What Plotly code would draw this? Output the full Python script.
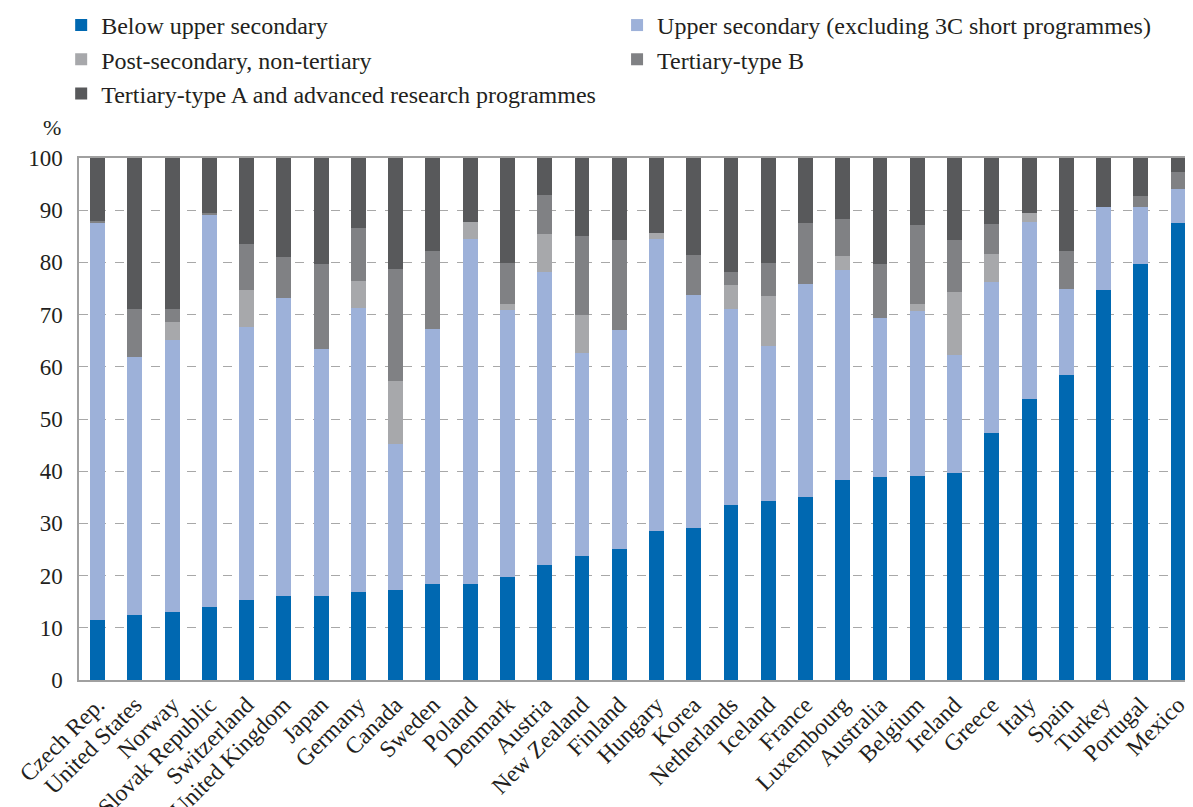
import plotly.graph_objects as go

countries = ["Czech Rep.", "United States", "Norway", "Slovak Republic", "Switzerland",
             "United Kingdom", "Japan", "Germany", "Canada", "Sweden", "Poland", "Denmark",
             "Austria", "New Zealand", "Finland", "Hungary", "Korea", "Netherlands", "Iceland",
             "France", "Luxembourg", "Australia", "Belgium", "Ireland", "Greece", "Italy",
             "Spain", "Turkey", "Portugal", "Mexico"]

below_upper_secondary = [11.5, 12.5, 13.1, 14.0, 15.4, 16.1, 16.1, 16.9, 17.2, 18.4, 18.4, 19.7,
                         22.1, 23.7, 25.1, 28.5, 29.1, 33.5, 34.3, 35.0, 38.4, 38.8, 39.0, 39.6,
                         47.3, 53.8, 58.4, 74.8, 79.7, 87.5]
upper_secondary = [76.2, 49.3, 52.0, 75.2, 52.2, 57.0, 47.4, 54.3, 28.1, 48.9, 66.0, 51.1,
                   56.0, 38.9, 42.0, 55.9, 44.7, 37.5, 29.6, 40.8, 40.2, 30.5, 31.6, 22.6,
                   29.0, 34.0, 16.6, 15.9, 11.0, 6.6]
post_secondary = [0.0, 0.0, 3.4, 0.0, 7.2, 0.0, 0.0, 5.3, 11.9, 0.0, 3.4, 1.3,
                  7.4, 7.4, 0.0, 1.3, 0.0, 4.6, 9.7, 0.0, 2.7, 0.0, 1.4, 12.2,
                  5.4, 1.7, 0.0, 0.0, 0.0, 0.0]
tertiary_b = [0.2, 9.2, 2.6, 0.3, 8.8, 8.0, 16.2, 10.0, 21.6, 14.8, 0.0, 7.8,
              7.5, 15.1, 17.1, 0.0, 7.7, 2.5, 6.3, 11.7, 7.1, 10.4, 15.1, 9.8,
              5.6, 0.0, 7.2, 0.0, 2.1, 3.3]
tertiary_a = [12.1, 29.0, 28.9, 10.5, 16.4, 18.9, 20.3, 13.5, 21.2, 17.9, 12.2, 20.1,
              7.0, 14.9, 15.8, 14.3, 18.5, 21.9, 20.1, 12.5, 11.6, 20.3, 12.9, 15.8,
              12.7, 10.5, 17.8, 9.3, 7.2, 2.6]

series = [
    ("Below upper secondary", below_upper_secondary, "#0068B1", "legend"),
    ("Upper secondary (excluding 3C short programmes)", upper_secondary, "#9DB1D9", "legend2"),
    ("Post-secondary, non-tertiary", post_secondary, "#A7A8AB", "legend"),
    ("Tertiary-type B", tertiary_b, "#808184", "legend2"),
    ("Tertiary-type A and advanced research programmes", tertiary_a, "#58595B", "legend"),
]

FONT = "Liberation Serif, Times New Roman, serif"
TXT = "#231F20"
fig = go.Figure()
for name, vals, col, lg in series:
    fig.add_trace(go.Bar(x=countries, y=vals, name=name, marker_color=col,
                         marker_line_width=0, width=0.4, legend=lg, legendgroup=name))

leg_common = dict(orientation="v", xanchor="left", yanchor="top", y=1.297,
                  font=dict(family=FONT, size=24, color=TXT), tracegroupgap=0,
                  itemwidth=30, bgcolor="rgba(0,0,0,0)")

fig.update_layout(
    barmode="stack",
    width=1185, height=799,
    margin=dict(l=71, r=0, t=150, b=127, autoexpand=False),
    paper_bgcolor="white", plot_bgcolor="white",
    font=dict(family=FONT, size=23, color=TXT),
    showlegend=True,
    legend=dict(x=-0.016, **leg_common),
    legend2=dict(x=0.483, **leg_common),
    xaxis=dict(range=[-0.5, 29.4], tickangle=-45, showline=True, linecolor="#A0A0A0",
               linewidth=1.5, mirror=True, ticks="", automargin=False,
               tickfont=dict(size=23.5, color=TXT)),
    yaxis=dict(range=[0, 100], dtick=10, showline=True, linecolor="#A0A0A0", linewidth=1.5,
               showgrid=True, gridcolor="#A8A8A8", griddash="dash", gridwidth=1,
               ticks="", automargin=False, ticklabelstandoff=10,
               tickfont=dict(size=23, color=TXT), zeroline=False),
    annotations=[dict(text="%", xref="paper", yref="paper", x=-0.024, y=1.03,
                      xanchor="center", yanchor="bottom", showarrow=False,
                      font=dict(family=FONT, size=22, color=TXT))],
)

fig.write_html("out.html")
